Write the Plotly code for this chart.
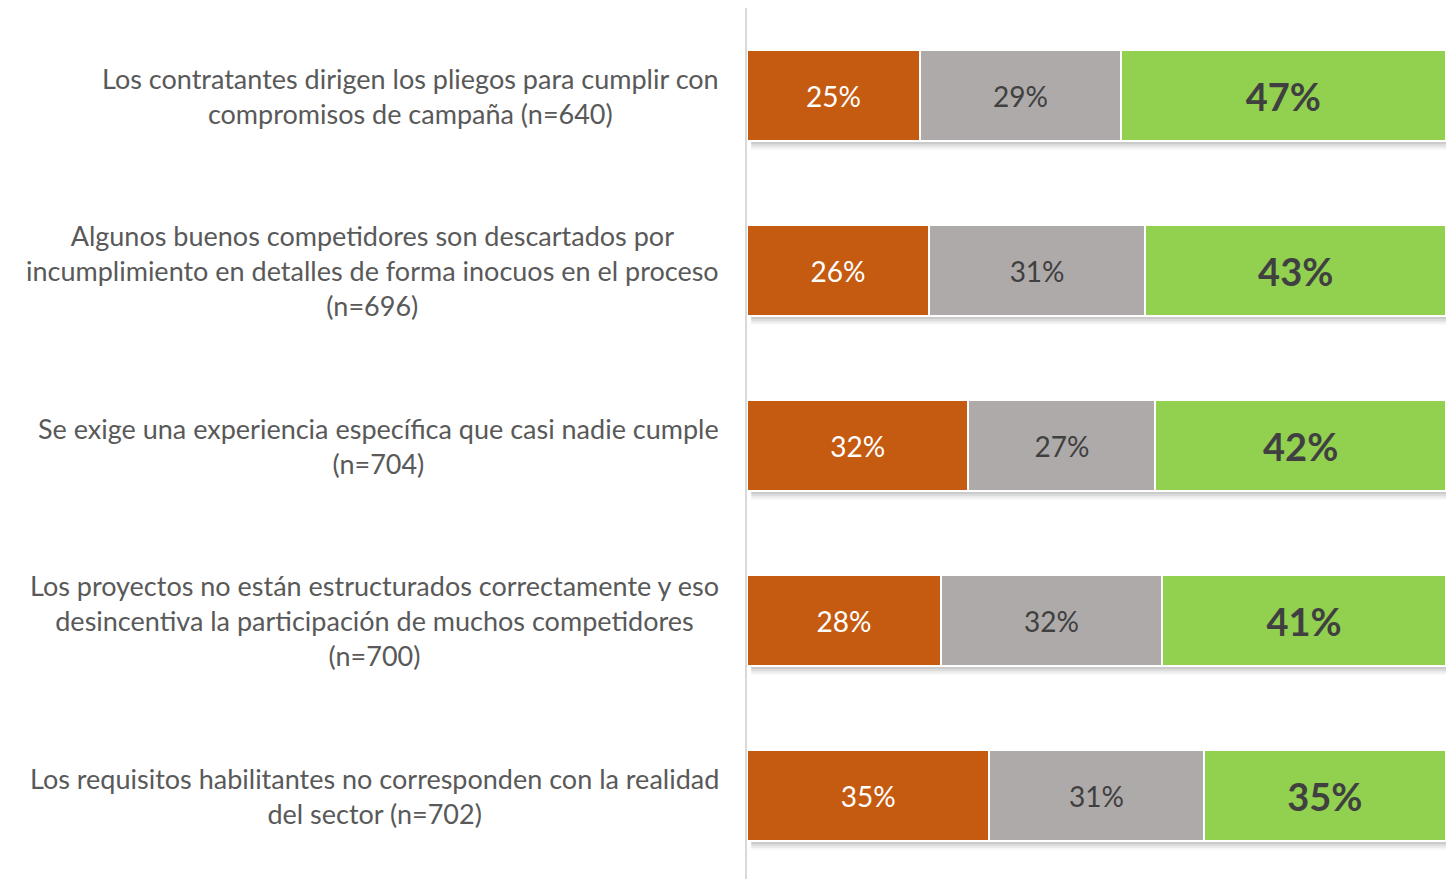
import plotly.graph_objects as go

categories = [
    "Los contratantes dirigen los pliegos para cumplir con<br>compromisos de campaña (n=640)",
    "Algunos buenos competidores son descartados por<br>incumplimiento en detalles de forma inocuos en el proceso<br>(n=696)",
    "Se exige una experiencia específica que casi nadie cumple<br>(n=704)",
    "Los proyectos no están estructurados correctamente y eso<br>desincentiva la participación de muchos competidores<br>(n=700)",
    "Los requisitos habilitantes no corresponden con la realidad<br>del sector (n=702)",
]
serie_naranja = [25, 26, 32, 28, 35]
serie_gris = [29, 31, 27, 32, 31]
serie_verde = [47, 43, 42, 41, 35]

ypos = list(range(len(categories)))
FONT = "Lato"

fig = go.Figure()
specs = [
    (serie_naranja, "#C55A11", dict(color="white", size=28, family=FONT), "%{text}"),
    (serie_gris, "#AEAAAA", dict(color="#404040", size=28, family=FONT), "%{text}"),
    (serie_verde, "#92D050", dict(color="#404040", size=38, family=FONT), "<b>%{text}</b>"),
]
for vals, col, tf, tmpl in specs:
    fig.add_trace(go.Bar(
        y=ypos, x=vals, orientation="h", width=0.52,
        marker=dict(color=col, line=dict(color="white", width=2)),
        text=[f"{v}%" for v in vals],
        texttemplate=tmpl,
        textposition="inside", insidetextanchor="middle",
        textfont=tf, showlegend=False, hoverinfo="skip",
    ))

# soft shadows under the bars
shapes = []
for i in ypos:
    for k, op in enumerate([0.6, 0.45, 0.3, 0.18, 0.08]):
        shapes.append(dict(type="rect", xref="x", yref="y", layer="below",
                           x0=0.6, x1=100, y0=i + 0.255 + k * 0.011, y1=i + 0.255 + (k + 1) * 0.011,
                           fillcolor="#8C8C8C", opacity=op, line=dict(width=0)))

annotations = []
for i, c in enumerate(categories):
    annotations.append(dict(xref="paper", yref="y", x=0, y=i, xanchor="right", yanchor="middle",
                            xshift=-26, text=c, showarrow=False, align="center",
                            font=dict(family=FONT, size=27, color="#595959")))

fig.update_layout(
    barmode="stack", barnorm="percent",
    width=1450, height=879,
    margin=dict(l=747, r=4, t=8, b=0),
    paper_bgcolor="white", plot_bgcolor="white",
    xaxis=dict(range=[0, 100], visible=False, fixedrange=True),
    yaxis=dict(range=[4.477, -0.5], showticklabels=False, showgrid=False, zeroline=False,
               showline=True, linecolor="#D9D9D9", linewidth=2, ticks="", fixedrange=True),
    shapes=shapes, annotations=annotations,
)
fig.write_html("out.html", config={"displayModeBar": False},
               post_script="document.body.style.margin='0';document.body.style.overflow='hidden';")
